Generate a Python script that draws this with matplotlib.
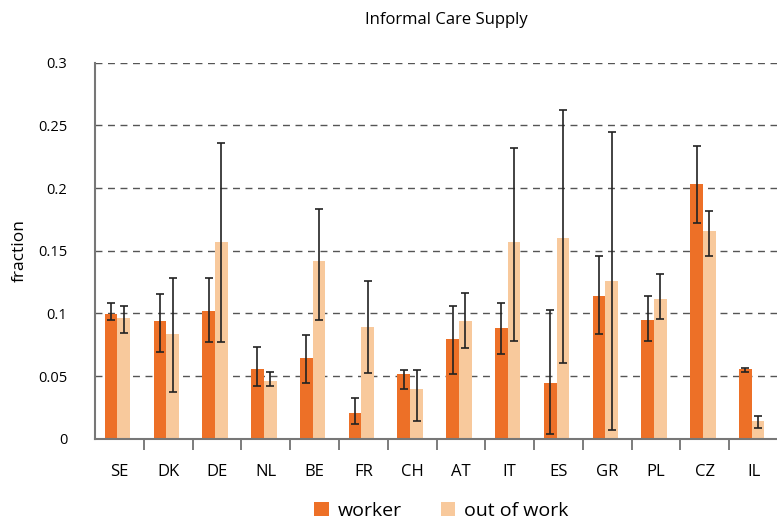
import numpy as np
import matplotlib
matplotlib.use("Agg")
import matplotlib.pyplot as plt

plt.rcParams['font.family'] = ['Open Sans', 'DejaVu Sans']

countries = ['SE', 'DK', 'DE', 'NL', 'BE', 'FR', 'CH', 'AT', 'IT', 'ES', 'GR', 'PL', 'CZ', 'IL']

worker = [0.0995, 0.0939, 0.1019, 0.0556, 0.0644, 0.0205, 0.0516, 0.0796, 0.0883, 0.0444, 0.1139, 0.0947, 0.2033, 0.0556]
worker_lo = [0.0947, 0.0694, 0.0774, 0.0423, 0.0442, 0.0115, 0.0394, 0.0514, 0.0673, 0.0037, 0.0833, 0.0777, 0.1719, 0.0535]
worker_hi = [0.1080, 0.1155, 0.1280, 0.0730, 0.0830, 0.0327, 0.0550, 0.1059, 0.1083, 0.1025, 0.1460, 0.1136, 0.2338, 0.0562]

out_of_work = [0.0963, 0.0835, 0.1570, 0.0460, 0.1418, 0.0891, 0.0397, 0.0939, 0.1570, 0.1600, 0.1259, 0.1115, 0.1657, 0.0141]
out_lo = [0.0846, 0.0373, 0.0774, 0.0423, 0.0947, 0.0522, 0.0144, 0.0726, 0.0782, 0.0604, 0.0072, 0.0958, 0.1460, 0.0088]
out_hi = [0.1057, 0.1280, 0.2360, 0.0530, 0.1835, 0.1260, 0.0550, 0.1160, 0.2320, 0.2620, 0.2450, 0.1317, 0.1820, 0.0184]

c_worker = '#ED7027'
c_out = '#F8C99C'

x = np.arange(len(countries))
w = 0.26

fig = plt.figure(figsize=(7.77, 5.24), dpi=100)
ax = fig.add_axes([0.1223, 0.1628, 0.879, 0.7175])

ax.set_axisbelow(True)
ax.yaxis.grid(True, linestyle=(0, (5, 4)), color='#555555', linewidth=1.0)

worker = np.array(worker)
out_of_work = np.array(out_of_work)
err_w = [worker - np.array(worker_lo), np.array(worker_hi) - worker]
err_o = [out_of_work - np.array(out_lo), np.array(out_hi) - out_of_work]

ax.bar(x - 0.17, worker, w, color=c_worker, label='worker', zorder=2)
ax.bar(x - 0.17 + w, out_of_work, w, color=c_out, label='out of work', zorder=2)
ax.errorbar(x - 0.17, worker, yerr=err_w, fmt='none', ecolor='#222222',
            elinewidth=1.2, capsize=2.6, capthick=1.2, zorder=3)
ax.errorbar(x - 0.17 + w, out_of_work, yerr=err_o, fmt='none', ecolor='#222222',
            elinewidth=1.2, capsize=2.6, capthick=1.2, zorder=3)

ax.set_xlim(-0.5, len(countries) - 0.5)
ax.set_ylim(0, 0.3)
ax.set_yticks([0, 0.05, 0.1, 0.15, 0.2, 0.25, 0.3])
ax.set_yticklabels(['0', '0.05', '0.1', '0.15', '0.2', '0.25', '0.3'])
ax.tick_params(axis='y', length=0, pad=20, labelsize=10.5)

ax.set_xticks(x)
ax.set_xticklabels(countries)
ax.set_xticks(x[:-1] + 0.5, minor=True)
ax.tick_params(axis='x', which='major', length=0, pad=18, labelsize=12)
ax.tick_params(axis='x', which='minor', length=8, width=1.2, color='#666666')

for s in ['top', 'right']:
    ax.spines[s].set_visible(False)
for s in ['left', 'bottom']:
    ax.spines[s].set_color('#777777')
    ax.spines[s].set_linewidth(1.5)

ax.set_ylabel('fraction', fontsize=12.5, labelpad=7.5)
fig.text(0.575, 0.962, 'Informal Care Supply', ha='center', va='center', fontsize=12)

fig.legend(loc='center', bbox_to_anchor=(0.568, 0.025), ncol=2, frameon=False,
           fontsize=14, handlelength=0.75, handleheight=0.75, handletextpad=0.45,
           columnspacing=2.0)

fig.savefig('out.png', dpi=100)
